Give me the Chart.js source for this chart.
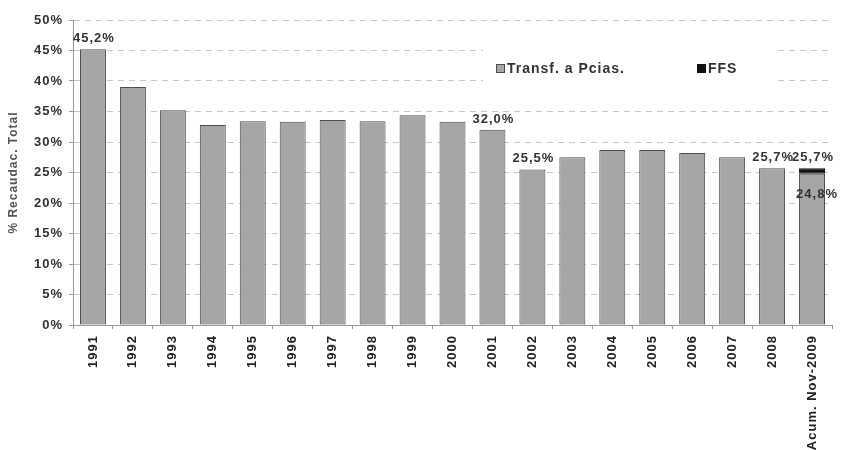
<!DOCTYPE html>
<html>
<head>
<meta charset="utf-8">
<script src="https://cdn.jsdelivr.net/npm/chart.js@4"></script>
<style>
  html, body { margin: 0; padding: 0; background: #fff; }
  #wrap { width: 843px; height: 450px; }
</style>
</head>
<body>
<div id="wrap"><canvas id="chart" width="843" height="450"></canvas></div>
<script>
// === DATA ===
const years = ["1991","1992","1993","1994","1995","1996","1997","1998","1999","2000",
  "2001","2002","2003","2004","2005","2006","2007","2008","Acum. Nov-2009"];
const transf = [45.2, 39.0, 35.2, 32.8, 33.4, 33.3, 33.6, 33.4, 34.4, 33.3,
  32.0, 25.5, 27.5, 28.7, 28.7, 28.2, 27.5, 25.7, 24.8];
const ffs = [0, 0, 0, 0, 0, 0, 0, 0, 0, 0, 0, 0, 0, 0, 0, 0, 0, 0, 0.9];
const labelled = [0, 10, 11, 17, 18];   // bars with a value on top
const yTicks = [0, 5, 10, 15, 20, 25, 30, 35, 40, 45, 50];

const FONT = "'Liberation Sans', Arial, sans-serif";
const pct = v => v.toFixed(1).replace('.', ',') + '%';

// slightly wider lettering everywhere
const spacing = {
  id: 'spacing',
  beforeUpdate(chart) { chart.ctx.letterSpacing = '1px'; },
  beforeDraw(chart) { chart.ctx.letterSpacing = '1px'; }
};

// value labels + legend box drawn by hand
const extras = {
  id: 'extras',
  afterDatasetsDraw(chart) {
    const ctx = chart.ctx;
    const x = chart.scales.x, y = chart.scales.y;
    ctx.save();
    ctx.letterSpacing = '1px';
    ctx.font = 'bold 13px ' + FONT;
    ctx.fillStyle = '#333';
    ctx.textAlign = 'center';
    ctx.textBaseline = 'alphabetic';
    labelled.forEach(i => {
      const total = transf[i] + ffs[i];
      ctx.fillText(pct(total), x.getPixelForValue(i) + 1, y.getPixelForValue(total) - 7);
    });
    // lower value of the stacked bar, just under the black band
    const last = transf.length - 1;
    ctx.fillText(pct(transf[last]), x.getPixelForValue(last) + 5, y.getPixelForValue(transf[last]) + 24);

    // legend
    ctx.fillStyle = '#fff';
    ctx.fillRect(483, 45, 290, 50);
    const items = chart.data.datasets.map(d => ({label: d.label, fill: d.backgroundColor, stroke: d.borderColor}));
    const xs = [496, 697];
    ctx.font = 'bold 14px ' + FONT;
    ctx.textAlign = 'left';
    ctx.textBaseline = 'middle';
    items.forEach((it, k) => {
      ctx.fillStyle = it.fill;
      ctx.fillRect(xs[k], 64, 9, 9);
      ctx.strokeStyle = it.stroke;
      ctx.lineWidth = 1;
      ctx.strokeRect(xs[k] + 0.5, 64.5, 8, 8);
      ctx.fillStyle = '#333';
      ctx.fillText(it.label, xs[k] + 11, 69);
    });
    ctx.restore();
  }
};

new Chart(document.getElementById('chart'), {
  type: 'bar',
  data: {
    labels: years,
    datasets: [
      { label: 'Transf. a Pcias.', data: transf, backgroundColor: '#a6a6a6', borderColor: '#4d4d4d',
        borderWidth: 1, borderSkipped: false, barPercentage: 0.65, categoryPercentage: 1 },
      { label: 'FFS', data: ffs, backgroundColor: '#111', borderColor: '#111',
        borderWidth: 1, borderSkipped: false, barPercentage: 0.65, categoryPercentage: 1 }
    ]
  },
  options: {
    responsive: false,
    animation: false,
    layout: { padding: { top: 20, right: 11, left: 6, bottom: 0 } },
    plugins: { legend: { display: false }, tooltip: { enabled: false } },
    scales: {
      x: {
        stacked: true,
        afterFit: s => { s.height = 125; },
        grid: { display: true, drawOnChartArea: false, offset: true, tickLength: 4, color: '#999' },
        border: { color: '#999' },
        ticks: {
          minRotation: 90, maxRotation: 90, autoSkip: false, padding: 6,
          color: '#222', font: { family: FONT, size: 13, weight: 'bold' }
        }
      },
      y: {
        stacked: true,
        min: 0, max: 50,
        afterFit: s => { s.width = 67; },
        afterBuildTicks: s => { s.ticks = yTicks.map(v => ({ value: v })); },
        grid: { color: '#c8c8c8', tickLength: 4, tickColor: '#999' },
        border: { color: '#999', dash: [6, 5] },
        ticks: {
          padding: 6, color: '#333', font: { family: FONT, size: 13, weight: 'bold' },
          callback: v => v + '%'
        },
        title: {
          display: true, text: '% Recaudac. Total', color: '#555', padding: { top: 0, bottom: 4 },
          font: { family: FONT, size: 12, weight: 'bold' }
        }
      }
    }
  },
  plugins: [spacing, extras]
});
</script>
</body>
</html>
